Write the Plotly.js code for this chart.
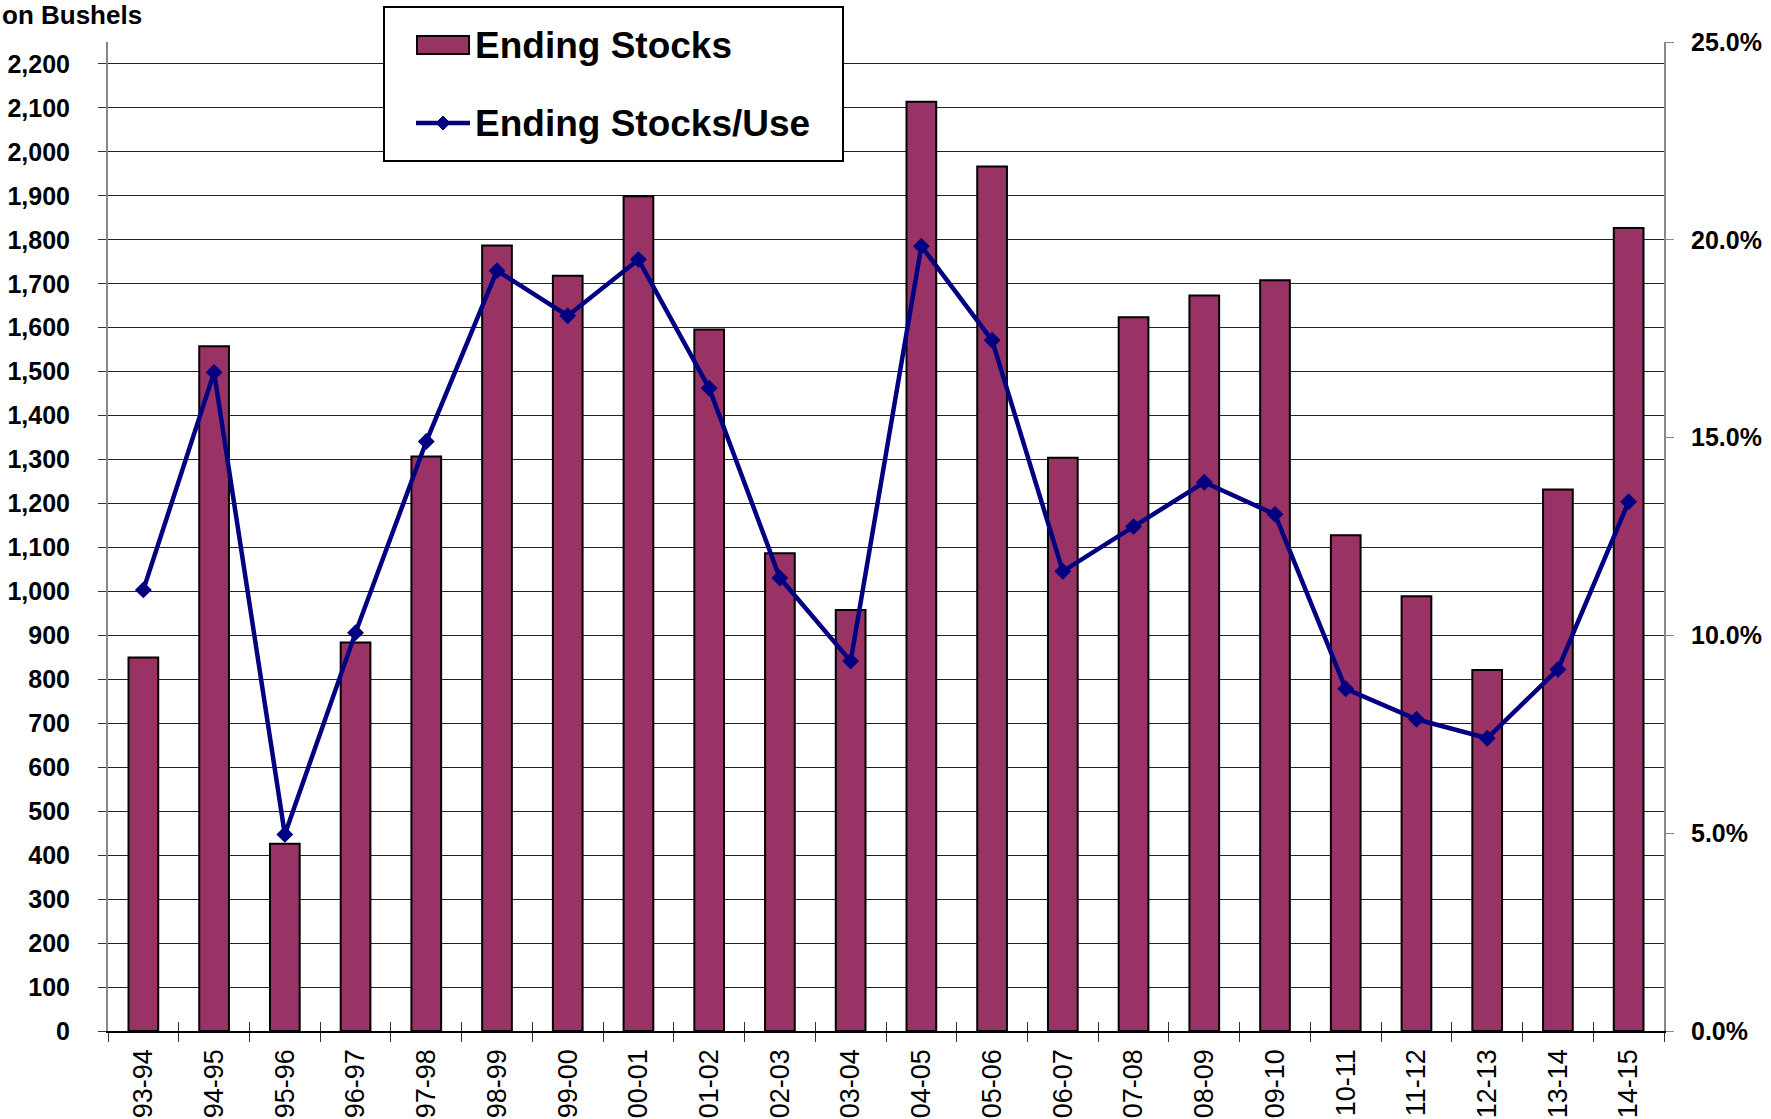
<!DOCTYPE html>
<html>
<head>
<meta charset="utf-8">
<script src="https://cdn.plot.ly/plotly-3.0.1.min.js"></script>
<style>html,body{margin:0;padding:0;background:#fff;}#chart{width:1771px;height:1119px;}</style>
</head>
<body>
<div id="chart"></div>
<script>
const seasons = ["93-94","94-95","95-96","96-97","97-98","98-99","99-00","00-01","01-02","02-03","03-04","04-05","05-06","06-07","07-08","08-09","09-10","10-11","11-12","12-13","13-14","14-15"];
const endingStocks = [850,1558,426,884,1307,1787,1718,1899,1596,1087,958,2114,1967,1304,1624,1673,1708,1128,989,821,1232,1827];
const stocksToUse = [0.1115,0.1665,0.0497,0.1007,0.1490,0.1922,0.1808,0.1950,0.1625,0.1145,0.0935,0.1984,0.1746,0.1162,0.1275,0.1387,0.1306,0.0865,0.0788,0.0740,0.0914,0.1338];

const barColor = '#993366';
const lineColor = '#000080';
const font = 'Liberation Sans, Arial, sans-serif';

const traces = [
  {type:'bar', x:seasons, y:endingStocks, name:'Ending Stocks', width:0.42,
   marker:{color:barColor, line:{color:'#000', width:2}}, showlegend:false},
  {type:'scatter', mode:'lines+markers', x:seasons, y:stocksToUse, yaxis:'y2', name:'Ending Stocks/Use',
   line:{color:lineColor, width:4.5}, marker:{symbol:'diamond', size:13, color:lineColor}, showlegend:false},
  {type:'scatter', mode:'markers', x:seasons, y:seasons.map(()=>null), xaxis:'x2', showlegend:false, hoverinfo:'skip'}
];

const L = 108, R = 107, T = 42, B = 88;
const W = 1771, H = 1119;
const pw = W - L - R, ph = H - T - B;
const px = v => (v - L) / pw;
const py = v => 1 - (v - T) / ph;
const xr = [-0.5, seasons.length - 0.5];

const layout = {
  width: W, height: H,
  margin:{l:L, r:R, t:T, b:B, pad:0},
  paper_bgcolor:'#fff', plot_bgcolor:'#fff',
  font:{family:font, color:'#000'},
  xaxis:{type:'category', categoryorder:'array', categoryarray:seasons, range:xr, autorange:false,
    tickangle:-90, tickfont:{size:27, family:font, color:'#000'},
    showline:true, linecolor:'#000', linewidth:1.5, ticks:'outside', ticklen:9, tickcolor:'#333', tickwidth:1,
    tickson:'boundaries', showgrid:false, zeroline:false, ticklabelstandoff:6},
  xaxis2:{type:'category', categoryorder:'array', categoryarray:seasons, range:xr, autorange:false,
    overlaying:'x', anchor:'y', side:'bottom', ticks:'inside', ticklen:9,
    tickcolor:'#333', tickwidth:1, tickson:'boundaries', showticklabels:false, showgrid:false, showline:false, zeroline:false},
  yaxis:{range:[0,2250], tickvals:[0,100,200,300,400,500,600,700,800,900,1000,1100,1200,1300,1400,1500,1600,1700,1800,1900,2000,2100,2200],
    tickformat:',d', tickfont:{size:25, family:font, color:'#000', weight:'bold'},
    showgrid:true, gridcolor:'#222', gridwidth:1, showline:true, linecolor:'#888', linewidth:2,
    ticks:'outside', ticklen:8, tickcolor:'#333', zeroline:false, ticklabelstandoff:23},
  yaxis2:{overlaying:'y', side:'right', range:[0,0.25], dtick:0.05, tickformat:'.1%',
    tickfont:{size:25, family:font, color:'#000', weight:'bold'}, showgrid:false, zeroline:false,
    showline:true, linecolor:'#888', linewidth:2, ticks:'outside', ticklen:8, tickcolor:'#888', ticklabelstandoff:12},
  showlegend:false,
  shapes:[
    {type:'rect', xref:'paper', yref:'paper', x0:px(384), x1:px(843), y0:py(7), y1:py(161), line:{color:'#000', width:2}, fillcolor:'#fff', layer:'above'},
    {type:'rect', xref:'paper', yref:'paper', x0:px(417), x1:px(469), y0:py(36), y1:py(54), line:{color:'#000', width:2}, fillcolor:barColor, layer:'above'},
    {type:'line', xref:'paper', yref:'paper', x0:px(416), x1:px(470), y0:py(123), y1:py(123), line:{color:lineColor, width:4.5}, layer:'above'},
    {type:'path', xref:'paper', yref:'paper', layer:'above', fillcolor:lineColor, line:{color:lineColor, width:1},
     path:`M ${px(443)} ${py(116)} L ${px(450)} ${py(123)} L ${px(443)} ${py(130)} L ${px(436)} ${py(123)} Z`}
  ],
  annotations:[
    {xref:'paper', yref:'paper', x:px(0), y:py(15), xanchor:'left', yanchor:'middle', showarrow:false,
     text:'<b>on Bushels</b>', font:{size:26, family:font, color:'#000'}},
    {xref:'paper', yref:'paper', x:px(473), y:py(46), xanchor:'left', yanchor:'middle', showarrow:false,
     text:'<b>Ending Stocks</b>', font:{size:37, family:font, color:'#000'}},
    {xref:'paper', yref:'paper', x:px(473), y:py(124), xanchor:'left', yanchor:'middle', showarrow:false,
     text:'<b>Ending Stocks/Use</b>', font:{size:37, family:font, color:'#000'}}
  ]
};

Plotly.newPlot('chart', traces, layout, {displayModeBar:false, staticPlot:true});
</script>
</body>
</html>
